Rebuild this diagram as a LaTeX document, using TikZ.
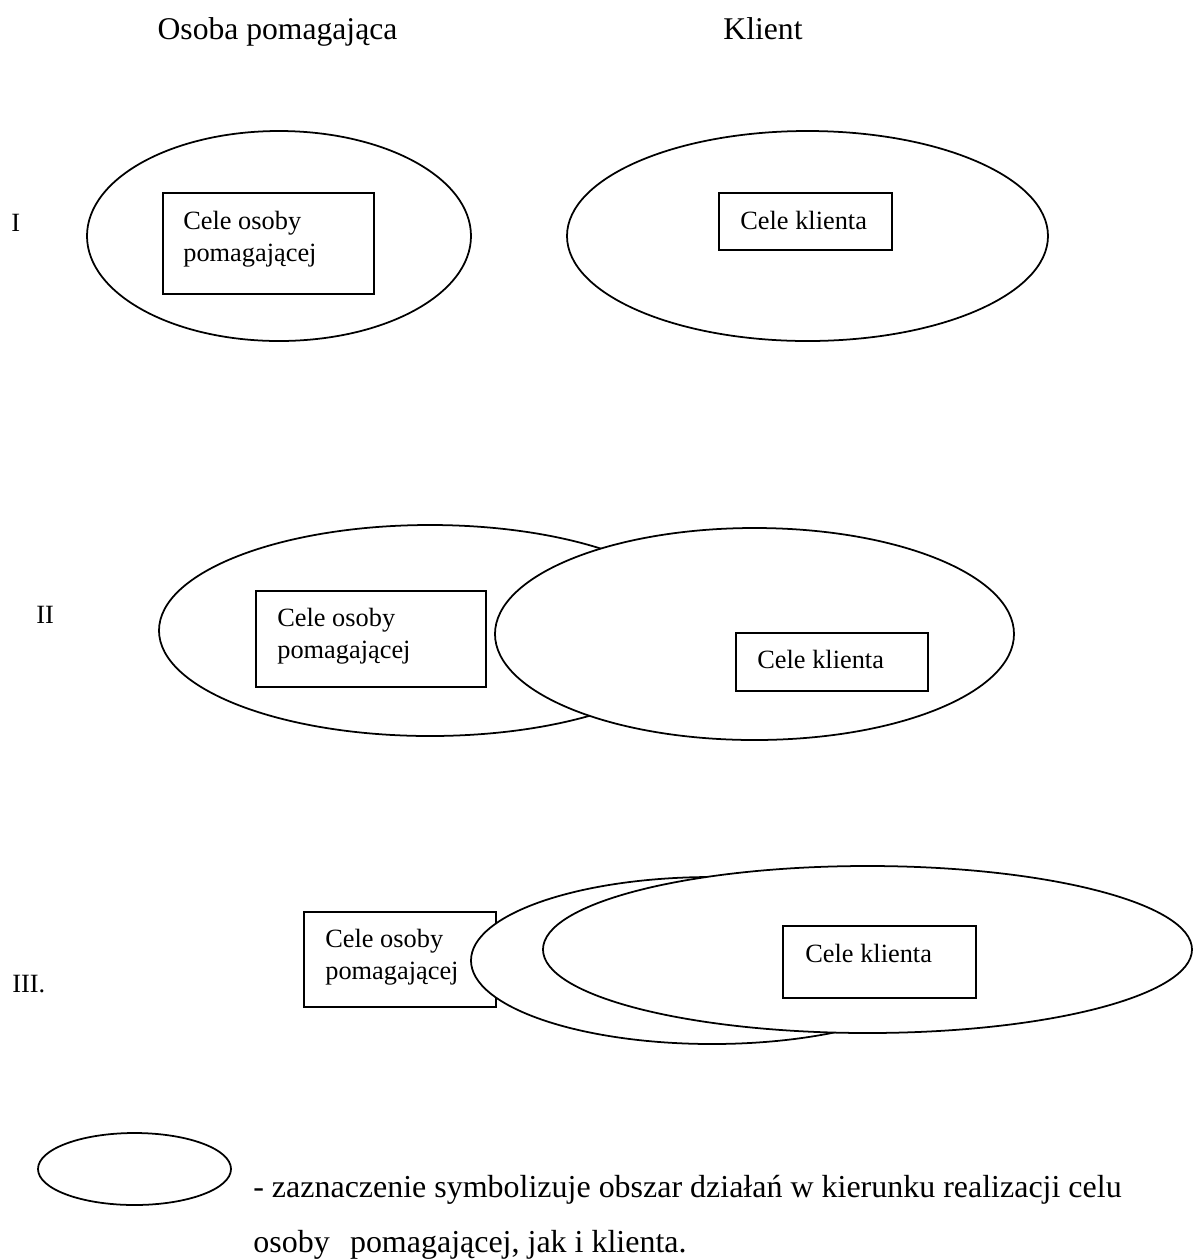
\documentclass[tikz,border=0pt]{standalone}
\usepackage{fontspec}
\setmainfont{Liberation Serif}
\begin{document}
\begin{tikzpicture}[x=0.02cm, y=-0.02cm,
        ramka/.style={draw, line width=1pt, inner sep=0pt},
        owal/.style={draw, fill=white, line width=1pt},
        opis/.style={anchor=base west, inner sep=0pt, align=left, font=\fontsize{15}{18.2}\selectfont},
        naglowek/.style={anchor=base, inner sep=0pt, font=\fontsize{18}{21}\selectfont}]
        \useasboundingbox (0, 0) rectangle (1193, 1259);

        \node[naglowek] at (277.5, 39)(osoba){Osoba pomagająca};
        \node[naglowek] at (763, 39)(klient){Klient};

        \node[opis] at (11, 231)(nrI){I};
        \node[opis] at (36, 623)(nrII){II};
        \node[opis] at (12, 992)(nrIII){III.};

        \draw[owal] (279, 236) ellipse [x radius=192, y radius=105];
            \node[ramka, minimum width=4.22cm, minimum height=2.02cm] at (268.5, 243.5)(celeOsI){};
            \node[opis] at (183, 261)(tekstOsI){Cele osoby\\pomagającej};
        \draw[owal] (807.5, 236) ellipse [x radius=240.5, y radius=105];
            \node[ramka, minimum width=3.46cm, minimum height=1.14cm] at (805.5, 221.5)(celeKlI){};
            \node[opis] at (740, 229)(tekstKlI){Cele klienta};

        \draw[owal] (430, 630.5) ellipse [x radius=271, y radius=105.5];
            \node[ramka, minimum width=4.60cm, minimum height=1.92cm] at (371, 639)(celeOsII){};
            \node[opis] at (277, 658)(tekstOsII){Cele osoby\\pomagającej};
        \draw[owal] (754.5, 634) ellipse [x radius=259.5, y radius=106];
            \node[ramka, minimum width=3.84cm, minimum height=1.16cm] at (832, 662)(celeKlII){};
            \node[opis] at (757, 668)(tekstKlII){Cele klienta};

        \node[ramka, minimum width=3.84cm, minimum height=1.90cm] at (400, 959.5)(celeOsIII){};
            \node[opis] at (325, 979)(tekstOsIII){Cele osoby\\pomagającej};
        \draw[owal] (712, 960.5) ellipse [x radius=241, y radius=83.5];
        \draw[owal] (867.5, 949.5) ellipse [x radius=324.5, y radius=83.5];
            \node[ramka, minimum width=3.86cm, minimum height=1.44cm] at (879.5, 962)(celeKlIII){};
            \node[opis] at (805, 962.5)(tekstKlIII){Cele klienta};



        \draw[owal] (134.5, 1169) ellipse [x radius=96.5, y radius=36];
        \node[opis, font=\fontsize{18.2}{30.8}\selectfont] at (253, 1252)(legenda){- zaznaczenie symbolizuje obszar działań w kierunku realizacji celu\\osoby\hspace{7pt} pomagającej, jak i klienta.};
    \end{tikzpicture}
\end{document}
